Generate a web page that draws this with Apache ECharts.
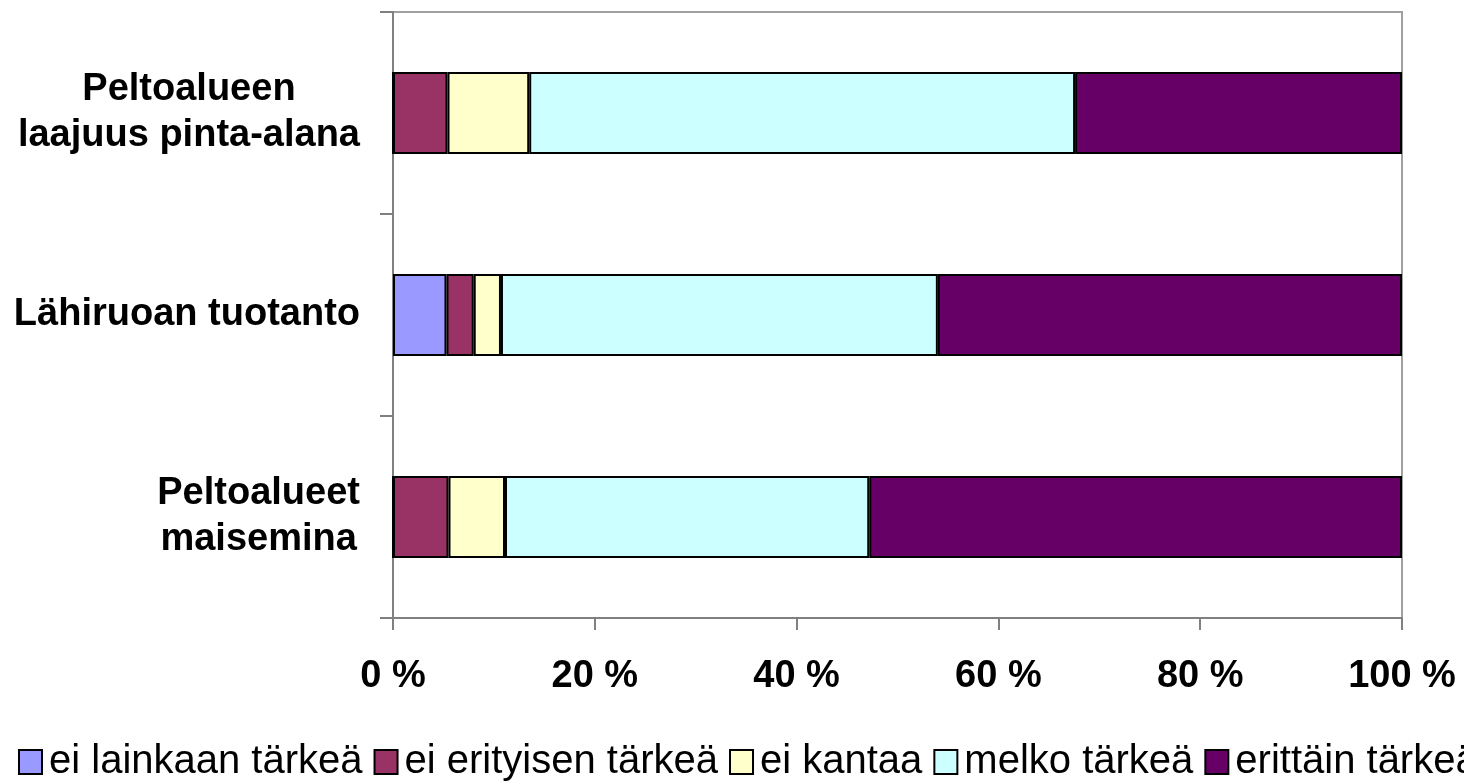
<!DOCTYPE html>
<html>
<head>
<meta charset="utf-8">
<script src="https://cdn.jsdelivr.net/npm/echarts@6/dist/echarts.min.js"></script>
<style>html,body{margin:0;padding:0;background:#fff}#c{width:1464px;height:783px}</style>
</head>
<body>
<div id="c"></div>
<script>
const categories = ['Peltoalueen laajuus pinta-alana', 'Lähiruoan tuotanto', 'Peltoalueet maisemina'];
const labelLines = {
  'Peltoalueen laajuus pinta-alana': ['Peltoalueen', 'laajuus pinta-alana'],
  'Lähiruoan tuotanto': ['Lähiruoan tuotanto'],
  'Peltoalueet maisemina': ['Peltoalueet', 'maisemina']
};
const seriesNames = ['ei lainkaan tärkeä', 'ei erityisen tärkeä', 'ei kantaa', 'melko tärkeä', 'erittäin tärkeä'];
const eiLainkaan = [0, 5.3, 0];
const eiErityisen = [5.4, 2.7, 5.5];
const eiKantaa = [8.1, 2.7, 5.6];
const melko = [54.1, 43.3, 36.1];
const erittain = [32.4, 46.0, 52.8];
const xTicks = [0, 20, 40, 60, 80, 100];
const colors = ['#9999FF', '#993366', '#FFFFCC', '#CCFFFF', '#660066'];

const values = [eiLainkaan, eiErityisen, eiKantaa, melko, erittain];
const FONT = '"Liberation Sans", Arial, sans-serif';

const chart = echarts.init(document.getElementById('c'), null, {renderer: 'canvas'});
chart.setOption({
  animation: false,
  grid: {left: 393, right: 62, top: 12, bottom: 165, show: true, borderColor: '#a0a0a0', borderWidth: 2},
  legend: {
    left: 13, top: 737, width: 2000, padding: 5,
    itemWidth: 23, itemHeight: 24, itemGap: 11,
    icon: 'rect',
    textStyle: {fontFamily: FONT, fontSize: 40, color: '#000', padding: [0, 0, 0, 2]},
    data: seriesNames
  },
  xAxis: {
    type: 'value', min: xTicks[0], max: xTicks[xTicks.length - 1], interval: 20,
    axisLine: {show: true, lineStyle: {color: '#808080', width: 2}},
    axisTick: {show: true, length: 12, lineStyle: {color: '#808080', width: 2}},
    splitLine: {show: false},
    axisLabel: {formatter: '{value} %', fontFamily: FONT, fontSize: 38, fontWeight: 'bold', color: '#000', margin: 40}
  },
  yAxis: {
    type: 'category', data: categories, inverse: true,
    axisLine: {show: true, lineStyle: {color: '#808080', width: 2}},
    axisTick: {show: true, length: 13, lineStyle: {color: '#808080', width: 2}},
    axisLabel: {
      margin: 33, align: 'right',
      formatter: v => labelLines[v].map(s => '{c|' + s + '}').join('\n'),
      rich: {c: {align: 'center', fontFamily: FONT, fontSize: 38, fontWeight: 'bold', color: '#000', lineHeight: 46}}
    }
  },
  series: seriesNames.map((n, i) => ({
    name: n, type: 'bar', stack: 'total', barWidth: 82,
    data: values[i],
    itemStyle: {color: colors[i], borderColor: '#000', borderWidth: 2},
    emphasis: {disabled: true}
  }))
});
</script>
</body>
</html>
